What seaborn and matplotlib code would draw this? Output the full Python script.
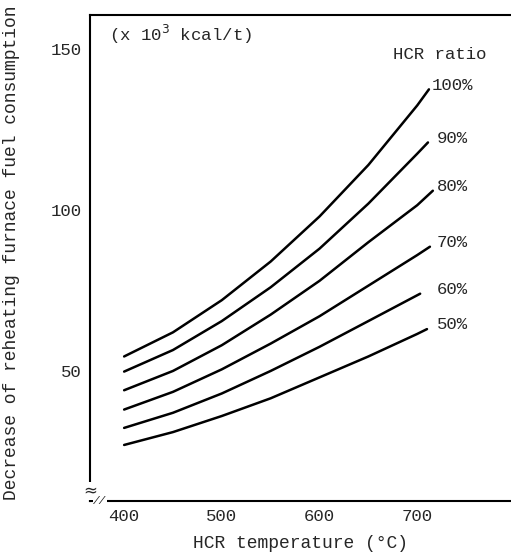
import pandas as pd
import matplotlib
matplotlib.use("Agg")
import matplotlib.pyplot as plt
import seaborn as sns

# readings from the chart: HCR temperature (°C) vs fuel consumption decrease (x10^3 kcal/t)
ratios = ["100%", "90%", "80%", "70%", "60%", "50%"]
temps = {
    "100%": [400, 450, 500, 550, 600, 650, 700, 712],
    "90%": [400, 450, 500, 550, 600, 650, 700, 711],
    "80%": [400, 450, 500, 550, 600, 650, 700, 716],
    "70%": [400, 450, 500, 550, 600, 650, 700, 713],
    "60%": [400, 450, 500, 550, 600, 650, 703],
    "50%": [400, 450, 500, 550, 600, 650, 700, 710],
}
values = {
    "100%": [54.5, 62, 72, 84, 98, 114, 132.5, 137.5],
    "90%": [49.8, 56.5, 65.5, 76, 88, 102, 117.5, 121],
    "80%": [44, 50, 58, 67.5, 78, 90, 101.5, 106],
    "70%": [38, 43.5, 50.5, 58.5, 67, 76.5, 86, 88.6],
    "60%": [32.3, 37, 43, 50, 57.5, 65.5, 74],
    "50%": [27, 31, 36, 41.5, 48, 54.5, 61.5, 63],
}

rows = []
for r in ratios:
    for t, v in zip(temps[r], values[r]):
        rows.append({"temp": t, "value": v, "ratio": r})
df = pd.DataFrame(rows)

sns.set_style("white")
plt.rcParams['font.family'] = ['Liberation Mono', 'DejaVu Sans Mono']

fig = plt.figure(figsize=(5.11, 5.56), dpi=100)
ax = fig.add_axes([0.176, 0.099, 0.824, 0.874])

sns.lineplot(data=df, x="temp", y="value", hue="ratio", units="ratio", estimator=None,
             palette=["black"] * len(ratios), linewidth=1.8, legend=False, ax=ax, sort=False,
             solid_joinstyle="round")

# curve labels just right of the curve ends
for r in ratios:
    lx = 715 if r == "100%" else 720
    ax.annotate(r, (lx, values[r][-1]), xytext=(0, 3), textcoords="offset points",
                ha="left", va="center", fontsize=12.5)

ax.text(0.831, 0.918, "HCR ratio", transform=ax.transAxes, ha="center", va="center", fontsize=12.5)
ax.text(0.045, 0.96, "(x 10$^3$ kcal/t)", transform=ax.transAxes, ha="left", va="center", fontsize=12.5)

ax.set_xlim(365, 796)
ax.set_ylim(9.6, 160.6)
ax.set_xticks([400, 500, 600, 700])
ax.set_yticks([50, 100, 150])
ax.tick_params(direction="in", length=7, width=1.2, labelsize=12.5, pad=6)
for s in ["left", "bottom", "top"]:
    ax.spines[s].set_linewidth(1.5)
    ax.spines[s].set_color("black")
ax.spines["right"].set_visible(False)

# axis break marks
ax.text(0.0, 0.021, "≈", transform=ax.transAxes, ha="center", va="center", fontsize=12,
        family="DejaVu Sans", bbox=dict(facecolor="white", edgecolor="none", pad=0))
ax.text(0.024, 0.0, "//", transform=ax.transAxes, ha="center", va="center", fontsize=8,
        style="italic", bbox=dict(facecolor="white", edgecolor="none", pad=0))

ax.set_xlabel("HCR temperature (°C)", fontsize=13)
ax.xaxis.set_label_coords(0.5, -0.071)
ax.set_ylabel("Decrease of reheating furnace fuel consumption", fontsize=13)
ax.yaxis.set_label_coords(-0.165, 0.51)

fig.savefig("out.png", dpi=100)
